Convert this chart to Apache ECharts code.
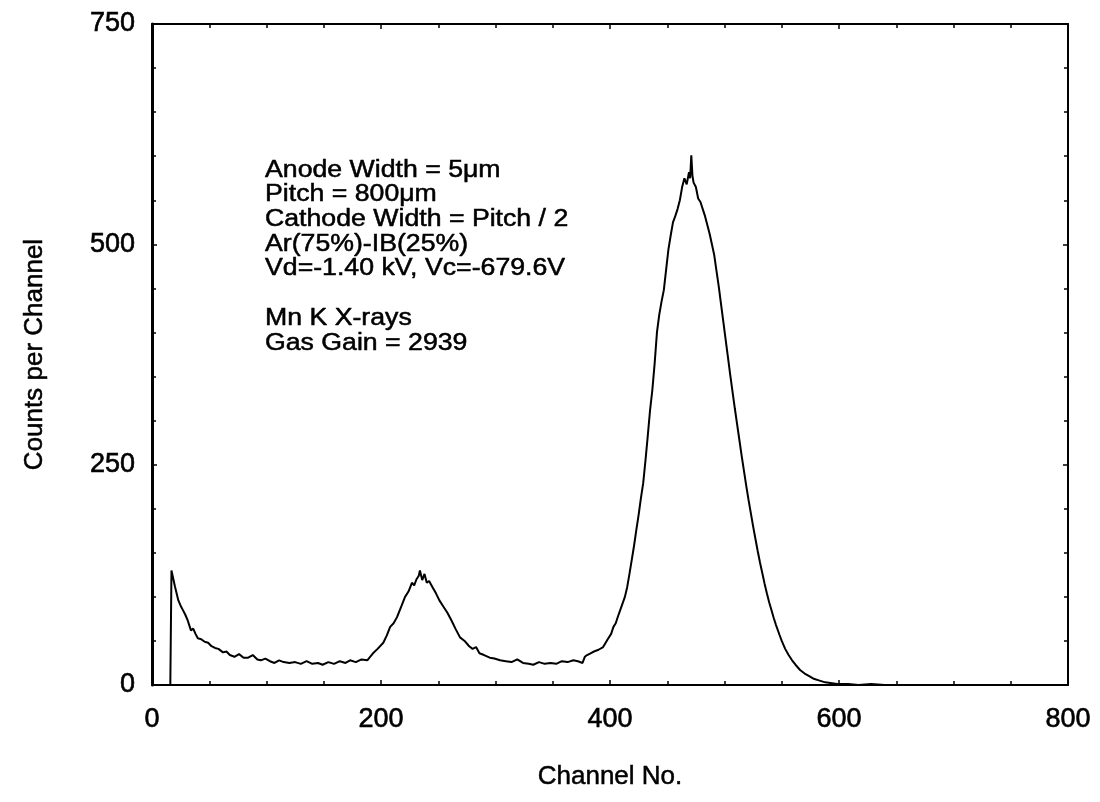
<!DOCTYPE html>
<html>
<head>
<meta charset="utf-8">
<script src="https://cdn.jsdelivr.net/npm/echarts@6/dist/echarts.min.js"></script>
<style>
  html, body { margin: 0; padding: 0; background: #fff; }
  #chart { width: 1100px; height: 802px; }
</style>
</head>
<body>
<div id="chart"></div>
<script>
// channel number / counts
const channel = [
  0, 16, 17, 18, 20, 23, 25, 27, 29, 31,
  33, 34, 36, 38, 40, 43, 46, 49, 52, 55,
  58, 62, 65, 68, 72, 76, 80, 84, 88, 92,
  95, 99, 103, 107, 111, 115, 120, 125, 130, 135,
  140, 145, 149, 154, 159, 164, 169, 173, 178, 183,
  188, 193, 197, 202, 205, 208, 211, 214, 218, 221,
  224, 227, 229, 231, 233, 234, 236, 238, 240, 242,
  245, 248, 251, 254, 258, 262, 265, 269, 273, 277,
  280, 283, 286, 290, 295, 299, 304, 309, 314, 319,
  324, 329, 333, 338, 343, 348, 353, 358, 363, 368,
  372, 376, 378, 380, 383, 386, 390, 394, 398, 401,
  403, 405, 407, 410, 413, 415, 417, 419, 421, 423,
  425, 427, 429, 431, 433, 435, 437, 439, 441, 443,
  445, 447, 449, 451, 453, 455, 457, 459, 461, 463,
  465, 467, 469, 470, 471, 472, 473, 475, 477, 479,
  481, 483, 485, 487, 489, 491, 493, 495, 497, 499,
  501, 503, 505, 507, 509, 511, 513, 515, 517, 519,
  521, 523, 525, 527, 529, 531, 533, 535, 537, 539,
  541, 543, 545, 548, 550, 553, 556, 559, 562, 566,
  570, 574, 578, 583, 588, 594, 600, 608, 617, 628,
  640, 660
];
const counts = [
  0, 0, 130, 124, 112, 96, 90, 85, 80, 74,
  66, 62, 64, 58, 53, 52, 49, 48, 44, 42,
  41, 37, 38, 34, 32, 35, 31, 31, 34, 29,
  28, 30, 27, 25, 28, 26, 25, 26, 24, 27,
  24, 25, 23, 26, 24, 27, 25, 28, 26, 29,
  28, 36, 41, 48, 56, 66, 70, 77, 90, 100,
  106, 116, 113, 120, 124, 130, 119, 126, 116, 118,
  111, 104, 96, 90, 82, 72, 64, 54, 50, 44,
  41, 43, 36, 34, 31, 30, 28, 27, 26, 29,
  25, 24, 23, 26, 24, 25, 24, 27, 26, 28,
  27, 25, 32, 34, 36, 38, 40, 43, 52, 58,
  66, 70, 78, 89, 100, 111, 126, 142, 158, 176,
  193, 212, 229, 255, 283, 312, 335, 365, 400, 420,
  435, 448, 471, 494, 510, 525, 532, 540, 550, 565,
  575, 568, 582, 575, 601, 578, 570, 565, 552, 548,
  540, 532, 522, 512, 500, 488, 470, 452, 432, 412,
  392, 372, 352, 333, 314, 296, 278, 260, 243, 226,
  210, 195, 180, 166, 152, 139, 127, 115, 104, 94,
  85, 76, 68, 57, 50, 41, 34, 28, 23, 17,
  13, 10, 7, 5, 3, 2, 1, 1, 0, 1,
  0, 0
];

const xRange = [0, 800];
const yRange = [0, 750];

const notes = [
  'Anode Width = 5μm',
  'Pitch = 800μm',
  'Cathode Width = Pitch / 2',
  'Ar(75%)-IB(25%)',
  'Vd=-1.40 kV, Vc=-679.6V',
  '',
  'Mn K X-rays',
  'Gas Gain = 2939'
];

const FONT = '"Liberation Sans", Arial, sans-serif';

let myChart = echarts.init(document.getElementById('chart'));

// plain frame axis, ticks pointing inward
function frameAxis(extra) {
  return Object.assign({
    type: 'value',
    axisLine: { show: true, onZero: false, lineStyle: { color: '#000', width: 2 } },
    axisTick: { show: true, inside: true, length: 5, lineStyle: { color: '#000', width: 1.5 } },
    splitLine: { show: false },
    axisLabel: { show: false }
  }, extra);
}

const labelStyle = {
  show: true, color: '#000', fontSize: 27, fontFamily: FONT,
  textBorderColor: '#000', textBorderWidth: 0.6
};
const nameStyle = {
  color: '#000', fontSize: 26, fontFamily: FONT,
  textBorderColor: '#000', textBorderWidth: 0.5
};

let option = {
  animation: false,
  backgroundColor: '#fff',
  grid: { left: 152, right: 32, top: 24, bottom: 117, containLabel: false },
  xAxis: [
    frameAxis({
      position: 'bottom',
      min: xRange[0], max: xRange[1], interval: 200,
      minorTick: { show: true, splitNumber: 4, length: 4, lineStyle: { color: '#000', width: 1.5 } },
      axisLabel: Object.assign({ margin: 21 }, labelStyle),
      name: 'Channel No.',
      nameLocation: 'middle',
      nameGap: 79,
      nameTextStyle: nameStyle
    }),
    frameAxis({
      position: 'top',
      min: xRange[0], max: xRange[1], interval: 200,
      minorTick: { show: true, splitNumber: 4, length: 4, lineStyle: { color: '#000', width: 1.5 } }
    })
  ],
  yAxis: [
    frameAxis({
      position: 'left',
      axisLine: { show: true, onZero: false, lineStyle: { color: '#000', width: 3 } },
      min: yRange[0], max: yRange[1], interval: 250,
      minorTick: { show: true, splitNumber: 5, length: 4, lineStyle: { color: '#000', width: 1.5 } },
      axisLabel: Object.assign({ margin: 17, padding: [6, 0, 0, 0] }, labelStyle),
      name: 'Counts per Channel',
      nameLocation: 'middle',
      nameRotate: 90,
      nameGap: 104,
      nameTextStyle: nameStyle
    }),
    frameAxis({
      position: 'right',
      min: yRange[0], max: yRange[1], interval: 250,
      minorTick: { show: true, splitNumber: 5, length: 4, lineStyle: { color: '#000', width: 1.5 } }
    })
  ],
  graphic: [
    {
      type: 'text',
      x: 265,
      y: 158,
      scaleX: 1.16,
      style: {
        text: notes.join('\n'),
        font: '23px ' + FONT,
        lineHeight: 24.7,
        fill: '#000',
        stroke: '#000',
        lineWidth: 0.5,
        verticalAlign: 'top'
      }
    }
  ],
  series: [
    {
      type: 'line',
      xAxisIndex: 0,
      yAxisIndex: 0,
      data: channel.map((c, i) => [c, counts[i]]),
      showSymbol: false,
      lineStyle: { color: '#000', width: 2 }
    }
  ]
};

myChart.setOption(option);
window.onresize = function () {
  myChart.resize();
};
</script>
</body>
</html>
